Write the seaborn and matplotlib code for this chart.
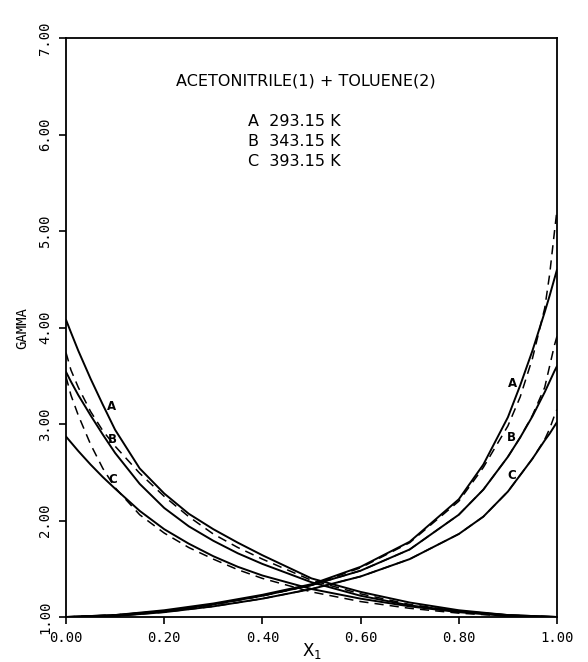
import matplotlib
matplotlib.use("Agg")
import matplotlib.pyplot as plt
import numpy as np
import seaborn as sns

# mole fraction grids (left branch = gamma1, right branch = gamma2)
x_left = [0, 0.01, 0.025, 0.05, 0.075, 0.1, 0.15, 0.2, 0.25, 0.3, 0.35, 0.4, 0.5, 0.6, 0.7, 0.8, 0.9, 1.0]
x_right = [0, 0.1, 0.2, 0.3, 0.4, 0.5, 0.6, 0.7, 0.8, 0.85, 0.9, 0.925, 0.95, 0.975, 0.985, 0.995, 1.0]

# gamma1, solid curves A, B, C
gamma1_A = [4.08, 3.95, 3.76, 3.47, 3.20, 2.94, 2.54, 2.28, 2.07, 1.91, 1.77, 1.64, 1.40, 1.26, 1.15, 1.07, 1.02, 1.00]
gamma1_B = [3.54, 3.44, 3.30, 3.09, 2.89, 2.70, 2.38, 2.13, 1.94, 1.79, 1.66, 1.55, 1.36, 1.22, 1.12, 1.06, 1.02, 1.00]
gamma1_C = [2.87, 2.81, 2.72, 2.58, 2.45, 2.33, 2.10, 1.91, 1.76, 1.63, 1.52, 1.43, 1.29, 1.19, 1.11, 1.05, 1.01, 1.00]
# gamma1, dashed curves
gamma1_dash1 = [3.74, 3.56, 3.38, 3.13, 2.93, 2.77, 2.49, 2.25, 2.04, 1.86, 1.72, 1.60, 1.38, 1.24, 1.13, 1.06, 1.02, 1.00]
gamma1_dash2 = [3.49, 3.30, 3.09, 2.79, 2.54, 2.34, 2.06, 1.87, 1.72, 1.60, 1.49, 1.40, 1.26, 1.16, 1.09, 1.04, 1.01, 1.00]

# gamma2, solid curves A, B, C
gamma2_A = [1.00, 1.02, 1.07, 1.14, 1.23, 1.34, 1.52, 1.78, 2.22, 2.58, 3.07, 3.40, 3.76, 4.16, 4.33, 4.51, 4.60]
gamma2_B = [1.00, 1.02, 1.06, 1.13, 1.22, 1.33, 1.48, 1.70, 2.06, 2.32, 2.66, 2.86, 3.08, 3.33, 3.44, 3.55, 3.60]
gamma2_C = [1.00, 1.01, 1.05, 1.11, 1.19, 1.29, 1.42, 1.60, 1.86, 2.04, 2.30, 2.47, 2.64, 2.83, 2.90, 2.98, 3.02]
# gamma2, dashed curves
gamma2_A_dash = [1.00, 1.02, 1.06, 1.13, 1.22, 1.33, 1.51, 1.77, 2.20, 2.55, 2.98, 3.28, 3.68, 4.20, 4.55, 5.00, 5.22]
gamma2_B_dash = [1.00, 1.02, 1.06, 1.13, 1.22, 1.33, 1.48, 1.70, 2.06, 2.32, 2.66, 2.86, 3.09, 3.38, 3.60, 3.82, 3.91]
gamma2_C_dash = [1.00, 1.01, 1.05, 1.11, 1.19, 1.29, 1.42, 1.60, 1.86, 2.04, 2.30, 2.47, 2.64, 2.84, 2.95, 3.09, 3.15]

curve_labels = ["A", "B", "C"]
temperatures = ["293.15 K", "343.15 K", "393.15 K"]
# where the A/B/C tags sit next to the curves (x, gamma)
left_tag_pos = [(0.092, 3.18), (0.094, 2.84), (0.096, 2.43)]
right_tag_pos = [(0.910, 3.42), (0.908, 2.86), (0.908, 2.47)]

x_ticks = [0.0, 0.2, 0.4, 0.6, 0.8, 1.0]
y_ticks = [1, 2, 3, 4, 5, 6, 7]

sns.set_style("ticks")
plt.rcParams['font.family'] = ['DejaVu Sans']
plt.rcParams['text.color'] = 'black'
plt.rcParams['xtick.color'] = 'black'
plt.rcParams['ytick.color'] = 'black'

fig = plt.figure(figsize=(5.88, 6.62), dpi=100)
ax = fig.add_axes([66 / 588, 1 - 617 / 662, 491 / 588, 579 / 662])

solid = dict(color="black", linewidth=1.4)
dashed = dict(color="black", linewidth=1.1, linestyle=(0, (6, 4)))

for g in [gamma1_A, gamma1_B, gamma1_C]:
    sns.lineplot(x=x_left, y=g, ax=ax, **solid)
for g in [gamma1_dash1, gamma1_dash2]:
    sns.lineplot(x=x_left, y=g, ax=ax, **dashed)
for g in [gamma2_A, gamma2_B, gamma2_C]:
    sns.lineplot(x=x_right, y=g, ax=ax, **solid)
for g in [gamma2_A_dash, gamma2_B_dash, gamma2_C_dash]:
    sns.lineplot(x=x_right, y=g, ax=ax, **dashed)

for lab, (xp, yp) in zip(curve_labels, left_tag_pos):
    ax.text(xp, yp, lab, fontsize=8.5, fontweight="bold", ha="center", va="center")
for lab, (xp, yp) in zip(curve_labels, right_tag_pos):
    ax.text(xp, yp, lab, fontsize=8.5, fontweight="bold", ha="center", va="center")

ax.set_xlim(0, 1)
ax.set_ylim(1, 7)
ax.set_xticks(x_ticks)
ax.set_xticklabels([f"{v:.2f}" for v in x_ticks], family="DejaVu Sans Mono", fontsize=10)
ax.set_yticks(y_ticks)
ax.set_yticklabels([f"{v:.2f}" for v in y_ticks], family="DejaVu Sans Mono", fontsize=10,
                   rotation=90, va="center")
ax.tick_params(direction="out", length=5, width=1.2, pad=5, color="black")
for s in ax.spines.values():
    s.set_linewidth(1.3)
    s.set_color("black")

# title and temperature key inside the plot
ax.text(0.489, 6.55, "ACETONITRILE(1) + TOLUENE(2)", ha="center", va="center",
        fontsize=11.5)
for i, (lab, t) in enumerate(zip(curve_labels, temperatures)):
    ax.text(0.371, 6.13 - 0.205 * i, f"{lab}  {t}", ha="left", va="center",
            fontsize=11.5)

fig.text(22 / 588, 1 - 328 / 662, "GAMMA", rotation=90, ha="center", va="center",
         fontsize=10, family="DejaVu Sans Mono")
fig.text(312 / 588, 1 - 651 / 662, "X$_1$", ha="center", va="center", fontsize=12)

fig.savefig("out.png", dpi=100)
